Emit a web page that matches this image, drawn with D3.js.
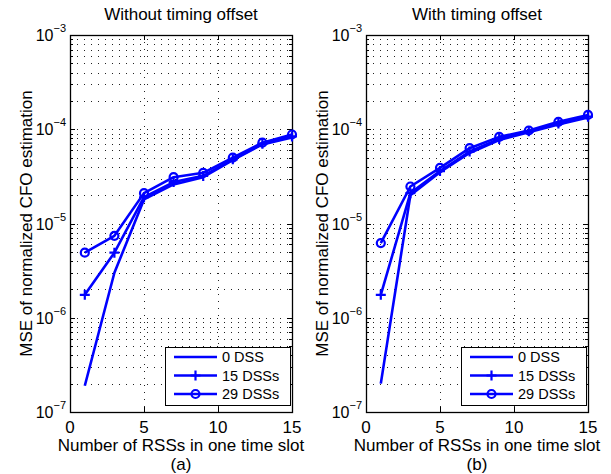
<!DOCTYPE html>
<html>
<head>
<meta charset="utf-8">
<script src="https://cdn.jsdelivr.net/npm/d3@7"></script>
<style>
  body { margin: 0; background: #fff; }
  svg { font-family: "Liberation Sans", Arial, sans-serif; }
</style>
</head>
<body>
<svg id="chart" width="611" height="474"></svg>
<script>
/* DATA */
var rssCounts = [1, 3, 5, 7, 9, 11, 13, 15];
var seriesNames = ["0 DSS", "15 DSSs", "29 DSSs"];
var seriesMarkers = ["none", "plus", "circle"];

// (a) without timing offset
var noOffset0 = [1.9e-7, 3.0e-6, 1.8e-5, 2.6e-5, 3.1e-5, 4.7e-5, 6.9e-5, 8.2e-5];
var noOffset15 = [1.75e-6, 4.9e-6, 1.9e-5, 2.75e-5, 3.2e-5, 4.8e-5, 7.0e-5, 8.4e-5];
var noOffset29 = [4.9e-6, 7.4e-6, 2.1e-5, 3.1e-5, 3.45e-5, 5.0e-5, 7.2e-5, 8.8e-5];

// (b) with timing offset
var withOffset0 = [2.0e-7, 2.0e-5, 3.5e-5, 5.6e-5, 7.7e-5, 9.3e-5, 1.12e-4, 1.33e-4];
var withOffset15 = [1.75e-6, 2.1e-5, 3.6e-5, 5.8e-5, 7.9e-5, 9.5e-5, 1.15e-4, 1.36e-4];
var withOffset29 = [6.2e-6, 2.47e-5, 3.9e-5, 6.3e-5, 8.3e-5, 9.7e-5, 1.2e-4, 1.42e-4];

var xTicks = [0, 5, 10, 15];
var yExponents = [-3, -4, -5, -6, -7];
var panelTitles = ["Without timing offset", "With timing offset"];
var panelTags = ["(a)", "(b)"];
var xLabel = "Number of RSSs in one time slot";
var yLabel = "MSE of normalized CFO estimation";

var panels = [
  { left: 70, series: [noOffset0, noOffset15, noOffset29] },
  { left: 366, series: [withOffset0, withOffset15, withOffset29] },
];

/* LAYOUT */
var plotTop = 35,
  plotBottom = 412,
  plotWidth = 222,
  blue = "#0000ff",
  fontSize = 17;

var svg = d3.select("#chart");

function drawPanel(p, idx) {
  var g = svg.append("g").attr("class", "panel" + idx);
  var x = d3.scaleLinear().domain([0, 15]).range([p.left, p.left + plotWidth]);
  var y = d3.scaleLog().domain([1e-7, 1e-3]).range([plotBottom, plotTop]);

  // minor + major decade values
  var yMajor = yExponents.map((e) => Math.pow(10, e));
  var yMinor = [];
  for (var e = -7; e < -3; e++)
    for (var m = 2; m <= 9; m++) yMinor.push(m * Math.pow(10, e));

  /* GRID */
  var grid = g.append("g").attr("class", "grid")
    .attr("stroke", "#222")
    .attr("stroke-width", 1)
    .attr("stroke-dasharray", "1,6");
  grid.selectAll("line.h")
    .data(yMajor.concat(yMinor))
    .join("line")
    .attr("class", "h")
    .attr("x1", x(0))
    .attr("x2", x(15))
    .attr("y1", (d) => Math.round(y(d)) + 0.5)
    .attr("y2", (d) => Math.round(y(d)) + 0.5);
  grid.selectAll("line.v")
    .data([5, 10])
    .join("line")
    .attr("class", "v")
    .attr("x1", (d) => Math.round(x(d)) + 0.5)
    .attr("x2", (d) => Math.round(x(d)) + 0.5)
    .attr("y1", plotTop)
    .attr("y2", plotBottom);

  /* AXES (matlab style: box with inward ticks) */
  var ax = g.append("g").attr("stroke", "#000").attr("stroke-width", 1);
  ax.append("rect")
    .attr("x", x(0) + 0.5)
    .attr("y", plotTop + 0.5)
    .attr("width", plotWidth)
    .attr("height", plotBottom - plotTop)
    .attr("fill", "none")
    .attr("stroke-width", 1.3);

  xTicks.forEach((t) => {
    var xx = Math.round(x(t)) + 0.5;
    ax.append("line").attr("x1", xx).attr("x2", xx).attr("y1", plotBottom).attr("y2", plotBottom - 5);
    ax.append("line").attr("x1", xx).attr("x2", xx).attr("y1", plotTop).attr("y2", plotTop + 5);
  });
  yMajor.forEach((v) => {
    var yy = Math.round(y(v)) + 0.5;
    ax.append("line").attr("x1", x(0)).attr("x2", x(0) + 5).attr("y1", yy).attr("y2", yy);
    ax.append("line").attr("x1", x(15)).attr("x2", x(15) - 5).attr("y1", yy).attr("y2", yy);
  });
  yMinor.forEach((v) => {
    var yy = Math.round(y(v)) + 0.5;
    ax.append("line").attr("x1", x(0)).attr("x2", x(0) + 3).attr("y1", yy).attr("y2", yy);
    ax.append("line").attr("x1", x(15)).attr("x2", x(15) - 3).attr("y1", yy).attr("y2", yy);
  });

  // tick labels
  g.append("g")
    .selectAll("text")
    .data(xTicks)
    .join("text")
    .attr("x", (d) => x(d))
    .attr("y", plotBottom + 21)
    .attr("text-anchor", "middle")
    .attr("font-size", fontSize)
    .text((d) => d);

  var yl = g.append("g")
    .selectAll("text")
    .data(yExponents)
    .join("text")
    .attr("x", x(0) - 4)
    .attr("y", (d) => y(Math.pow(10, d)) + 6)
    .attr("text-anchor", "end")
    .attr("font-size", 16);
  yl.append("tspan").text("10");
  yl.append("tspan")
    .attr("font-size", 11)
    .attr("dy", -9)
    .text((d) => "\u2212" + Math.abs(d));

  /* LABELS */
  var cx = x(7.5);
  g.append("text")
    .attr("x", cx)
    .attr("y", 20)
    .attr("text-anchor", "middle")
    .attr("font-size", fontSize)
    .text(panelTitles[idx]);
  g.append("text")
    .attr("x", cx)
    .attr("y", 451)
    .attr("text-anchor", "middle")
    .attr("font-size", fontSize)
    .text(xLabel);
  g.append("text")
    .attr("x", cx)
    .attr("y", 470)
    .attr("text-anchor", "middle")
    .attr("font-size", fontSize)
    .text(panelTags[idx]);
  g.append("text")
    .attr("transform", `translate(${p.left - 38},${(plotTop + plotBottom) / 2}) rotate(-90)`)
    .attr("text-anchor", "middle")
    .attr("font-size", fontSize)
    .text(yLabel);

  /* LINES */
  var line = d3.line()
    .x((d, i) => x(rssCounts[i]))
    .y((d) => y(d));

  p.series.forEach((vals, s) => {
    var sg = g.append("g").attr("class", "series" + s);
    sg.append("path")
      .attr("d", line(vals))
      .attr("fill", "none")
      .attr("stroke", blue)
      .attr("stroke-width", 2.6)
      .attr("stroke-linejoin", "round");
    drawMarkers(sg, seriesMarkers[s], vals.map((v, i) => [x(rssCounts[i]), y(v)]));
  });

  /* LEGEND */
  var lgW = 125, lgH = 58;
  var lgX = x(15) - 2 - lgW, lgY = plotBottom - 7 - lgH;
  var lg = g.append("g").attr("class", "legend");
  lg.append("rect")
    .attr("x", lgX + 0.5)
    .attr("y", lgY + 0.5)
    .attr("width", lgW)
    .attr("height", lgH)
    .attr("fill", "#fff")
    .attr("stroke", "#000")
    .attr("stroke-width", 1);
  seriesNames.forEach((name, s) => {
    var ly = lgY + 10 + s * 18.5;
    lg.append("line")
      .attr("x1", lgX + 9)
      .attr("x2", lgX + 52)
      .attr("y1", ly)
      .attr("y2", ly)
      .attr("stroke", blue)
      .attr("stroke-width", 2.6);
    drawMarkers(lg, seriesMarkers[s], [[lgX + 30.5, ly]]);
    lg.append("text")
      .attr("x", lgX + 57)
      .attr("y", ly + 5)
      .attr("font-size", 14.5)
      .text(name);
  });
}

function drawMarkers(sel, type, pts) {
  if (type == "circle") {
    sel.selectAll("circle.mk")
      .data(pts)
      .join("circle")
      .attr("class", "mk")
      .attr("cx", (d) => d[0])
      .attr("cy", (d) => d[1])
      .attr("r", 4)
      .attr("fill", "none")
      .attr("stroke", blue)
      .attr("stroke-width", 2.2);
  } else if (type == "plus") {
    sel.selectAll("path.mk")
      .data(pts)
      .join("path")
      .attr("class", "mk")
      .attr("d", (d) => `M${d[0] - 5},${d[1]}H${d[0] + 5}M${d[0]},${d[1] - 5}V${d[1] + 5}`)
      .attr("stroke", blue)
      .attr("stroke-width", 2.2);
  }
}

panels.forEach(drawPanel);
</script>
</body>
</html>
